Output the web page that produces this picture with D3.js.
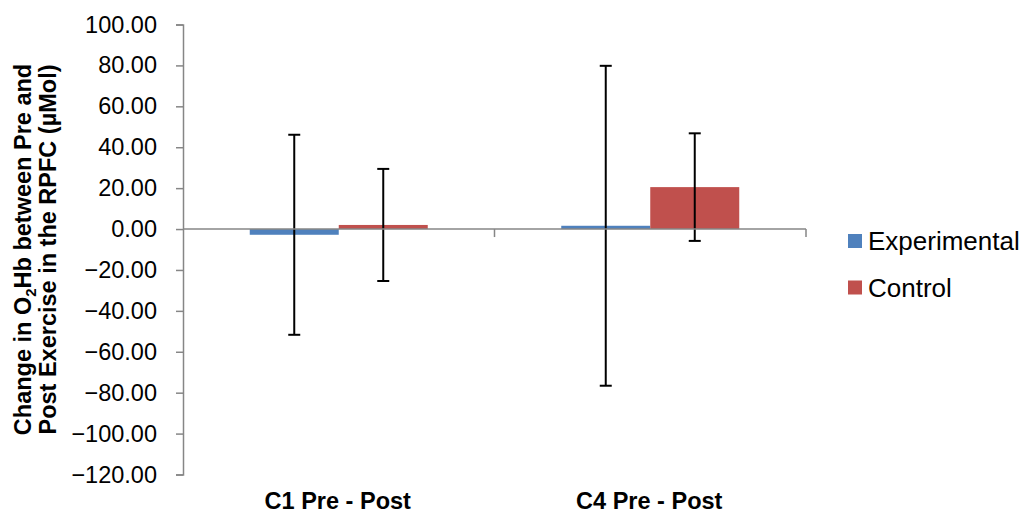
<!DOCTYPE html>
<html>
<head>
<meta charset="utf-8">
<script src="https://cdn.jsdelivr.net/npm/d3@7"></script>
<style>
  html, body { margin: 0; padding: 0; background: #fff; }
  svg { display: block; font-family: "Liberation Sans", Arial, sans-serif; }
</style>
</head>
<body>
<svg id="chart" width="1027" height="515"></svg>
<script>
const categories = ["C1 Pre - Post", "C4 Pre - Post"];
const seriesNames = ["Experimental", "Control"];
const experimental = [-2.8, 1.6];
const control = [2.0, 20.5];
const experimentalErr = [48.9, 78.2];
const controlErr = [27.4, 26.3];
const yTicks = [-120, -100, -80, -60, -40, -20, 0, 20, 40, 60, 80, 100];
const colors = ["#4F81BD", "#C0504D"];

(function () {
const svg = d3.select("#chart");
const pLeft = 183, pRight = 806, pTop = 24.5, pBottom = 474.5;

const y = d3.scaleLinear().domain([-120, 100]).range([pBottom, pTop]);
const x0 = d3.scaleBand().domain(categories).range([pLeft, pRight]).padding(0);
const x1 = d3.scaleBand().domain(seriesNames).range([0, x0.bandwidth()])
  .paddingInner(0).paddingOuter(0.75);

const axisColor = "#868686";

// Y axis
const yAxis = d3.axisLeft(y).tickValues(yTicks).tickSize(7).tickPadding(19)
  .tickFormat(d3.format(".2f"));
const gy = svg.append("g").attr("transform", `translate(${pLeft},0)`).call(yAxis);
gy.select(".domain").attr("stroke", axisColor).attr("stroke-width", 1.5);
gy.selectAll(".tick line").attr("stroke", axisColor).attr("stroke-width", 1.5);
gy.selectAll(".tick text").attr("font-size", "23.5px").attr("fill", "#000")
  .attr("font-family", "Liberation Sans, Arial, sans-serif");

// Bars
const data = categories.map((c, i) => ({
  cat: c,
  vals: [
    {s: seriesNames[0], v: experimental[i], e: experimentalErr[i]},
    {s: seriesNames[1], v: control[i], e: controlErr[i]}
  ]
}));

const groups = svg.append("g").selectAll("g").data(data).join("g")
  .attr("transform", d => `translate(${x0(d.cat)},0)`);

groups.selectAll("rect").data(d => d.vals).join("rect")
  .attr("x", d => x1(d.s))
  .attr("width", x1.bandwidth())
  .attr("y", d => y(Math.max(0, d.v)))
  .attr("height", d => Math.abs(y(d.v) - y(0)))
  .attr("fill", (d, i) => colors[i]);

// X axis at zero
const gx = svg.append("g").attr("transform", `translate(0,${y(0)})`);
gx.append("line").attr("x1", pLeft).attr("x2", pRight).attr("y1", 0).attr("y2", 0)
  .attr("stroke", axisColor).attr("stroke-width", 1.5);
const boundaries = [x0(categories[1]), pRight];
gx.selectAll(".bound").data(boundaries).join("line")
  .attr("x1", d => d).attr("x2", d => d).attr("y1", 0).attr("y2", 8)
  .attr("stroke", axisColor).attr("stroke-width", 1.5);

// Error bars
const eb = groups.selectAll("g.err").data(d => d.vals).join("g").attr("class", "err");
eb.append("line")
  .attr("x1", d => x1(d.s) + x1.bandwidth() / 2)
  .attr("x2", d => x1(d.s) + x1.bandwidth() / 2)
  .attr("y1", d => y(d.v + d.e)).attr("y2", d => y(d.v - d.e))
  .attr("stroke", "#000").attr("stroke-width", 2);
[1, -1].forEach(sign => {
  eb.append("line")
    .attr("x1", d => x1(d.s) + x1.bandwidth() / 2 - 6)
    .attr("x2", d => x1(d.s) + x1.bandwidth() / 2 + 6)
    .attr("y1", d => y(d.v + sign * d.e)).attr("y2", d => y(d.v + sign * d.e))
    .attr("stroke", "#000").attr("stroke-width", 2);
});

// Category labels
svg.append("g").selectAll("text").data(categories).join("text")
  .attr("x", d => x0(d) + x0.bandwidth() / 2 - 1)
  .attr("y", 509)
  .attr("text-anchor", "middle")
  .attr("font-size", "23.5px").attr("font-weight", "bold")
  .text(d => d);

// Y axis title
const yt = svg.append("text")
  .attr("transform", "translate(0,249.5) rotate(-90)")
  .attr("text-anchor", "middle")
  .attr("font-size", "23.5px").attr("font-weight", "bold");
const l1 = yt.append("tspan").attr("x", 0).attr("y", 31);
l1.append("tspan").text("Change in O");
l1.append("tspan").attr("font-size", "15px").attr("dy", 5).text("2");
l1.append("tspan").attr("dy", -5).text("Hb between Pre and");
yt.append("tspan").attr("x", 0).attr("y", 56).text("Post Exercise in the RPFC (\u00B5Mol)");

// Legend
const lg = svg.append("g").selectAll("g").data(seriesNames).join("g")
  .attr("transform", (d, i) => `translate(848,${234 + i * 46.5})`);
lg.append("rect").attr("width", 14).attr("height", 14).attr("fill", (d, i) => colors[i]);
lg.append("text").attr("x", 20).attr("y", 16).attr("font-size", "26px").text(d => d);
})();
</script>
</body>
</html>
